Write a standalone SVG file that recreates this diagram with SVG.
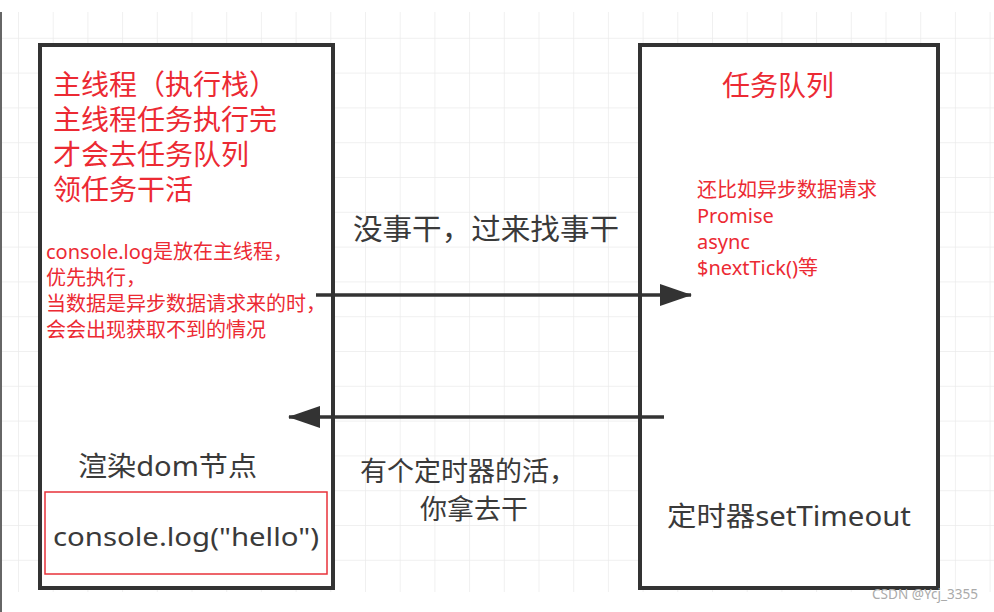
<svg xmlns="http://www.w3.org/2000/svg" width="994" height="612" viewBox="0 0 994 612">
<style>
text{font-family:"Noto Sans","Noto Sans CJK SC",sans-serif}
.red{fill:#ec2a33}
.dark{fill:#3a3a3a}
.box{fill:#fff;stroke:#333;stroke-width:4}
.conn{stroke:#333;stroke-width:3.5;fill:none}
</style>
<defs>
<pattern id="grid" patternUnits="userSpaceOnUse" x="18" y="3" width="34.7" height="34.8">
<path d="M0 0V34.8M0 0H34.7" stroke="#ebebeb" stroke-width="1.5" fill="none"/>
</pattern>
<marker id="ah" viewBox="0 0 32 22" refX="31" refY="11" markerWidth="32" markerHeight="22" markerUnits="userSpaceOnUse" orient="auto">
<path d="M0 0L32 11L0 22Z" fill="#333"/>
</marker>
</defs>
<rect width="994" height="612" fill="#fff"/>
<rect x="2" y="12" width="992" height="580" fill="url(#grid)"/>
<line x1="1" y1="12" x2="1" y2="612" stroke="#666" stroke-width="2"/>

<g id="main-thread">
<rect class="box" x="40" y="45" width="293" height="543"/>
<text class="red" font-size="28"><tspan x="53" y="95">主线程（执行栈）</tspan><tspan x="53" y="130">主线程任务执行完</tspan><tspan x="53" y="165">才会去任务队列</tspan><tspan x="53" y="200">领任务干活</tspan></text>
<text class="red" font-size="20"><tspan x="46" y="259">console.log是放在主线程，</tspan><tspan x="46" y="285">优先执行，</tspan><tspan x="46" y="311">当数据是异步数据请求来的时，</tspan><tspan x="46" y="337">会会出现获取不到的情况</tspan></text>
<text class="dark" x="78" y="476" font-size="27" textLength="179" lengthAdjust="spacingAndGlyphs">渲染dom节点</text>
</g>

<g id="console-box">
<rect x="45" y="492" width="282" height="82" fill="none" stroke="#e8323a" stroke-width="1.5"/>
<text class="dark" x="53" y="546" font-size="26" textLength="266" lengthAdjust="spacingAndGlyphs">console.log("hello")</text>
</g>

<g id="task-queue">
<rect class="box" x="640" y="45" width="298" height="543"/>
<text class="red" x="722" y="96" font-size="28">任务队列</text>
<text class="red" font-size="20"><tspan x="697" y="197">还比如异步数据请求</tspan><tspan x="697" y="223">Promise</tspan><tspan x="697" y="249">async</tspan><tspan x="697" y="275">$nextTick()等</tspan></text>
<text class="dark" x="667" y="526" font-size="27" textLength="244" lengthAdjust="spacingAndGlyphs">定时器setTimeout</text>
</g>

<g id="connectors">
<line class="conn" x1="316" y1="295" x2="691" y2="295" marker-end="url(#ah)"/>
<line class="conn" x1="664" y1="417" x2="289" y2="417" marker-end="url(#ah)"/>
<text class="dark" x="353" y="240" font-size="29" textLength="266" lengthAdjust="spacingAndGlyphs">没事干，过来找事干</text>
<text class="dark" font-size="27"><tspan x="360" y="481">有个定时器的活，</tspan><tspan x="420" y="519">你拿去干</tspan></text>
</g>

<text x="872" y="599" font-size="14" fill="#aaa" textLength="106" lengthAdjust="spacingAndGlyphs">CSDN @Ycj_3355</text>
</svg>
